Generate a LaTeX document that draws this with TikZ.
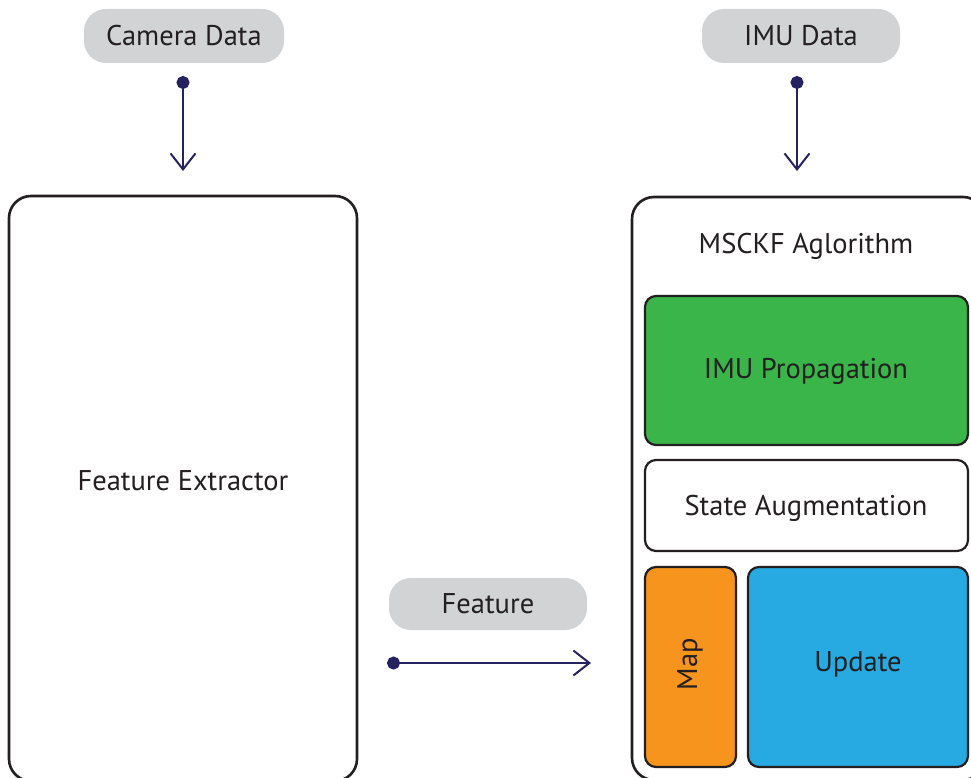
\documentclass[tikz,border=0pt]{standalone}
\usepackage{fontspec}
\setmainfont{PT Sans}
\usetikzlibrary{arrows.meta}
\definecolor{edge}{HTML}{231F20}
\definecolor{flow}{HTML}{262262}
\definecolor{pill}{HTML}{D1D3D4}
\definecolor{propgreen}{HTML}{39B54A}
\definecolor{maporange}{HTML}{F7941D}
\definecolor{updblue}{HTML}{27AAE1}
\tikzset{
  bigbox/.style={draw=edge, line width=2.6pt, rounded corners=22pt, fill=white},
  subbox/.style={draw=edge, line width=2.2pt, rounded corners=11pt},
  tag/.style={fill=pill, rounded corners=22pt, minimum height=54pt, inner sep=0pt},
  lbl/.style={font=\fontsize{28.5}{32}\selectfont, text=edge},
  flowarrow/.style={draw=flow, line width=2pt,
    {Circle[length=13pt]}-{Straight Barb[length=16pt,width=25pt,line width=2pt]}},
}
\begin{document}
\begin{tikzpicture}[x=1pt,y=-1pt]
\useasboundingbox (0,0) rectangle (971,778);
\clip (0,0) rectangle (971,778);

% input tags
\node[tag, minimum width=200pt, lbl] (cam) at (184,36) {Camera Data};
\node[tag, minimum width=198pt, lbl] (imu) at (801,36) {IMU Data};
\node[tag, minimum width=198pt, minimum height=52pt, lbl] (feat) at (488,604) {Feature};

% main blocks
\draw[bigbox] (9,196) rectangle (357,781);
\node[lbl] (fe) at (183,481) {Feature Extractor};
\draw[bigbox] (632,197) rectangle (985,780);
\node[lbl] (alg) at (806,246) {MSCKF Aglorithm};

% stages of the filter
\draw[subbox, fill=propgreen] (645,296) rectangle (968,445);
\node[lbl] (prop) at (806,371) {IMU Propagation};
\draw[subbox, fill=white] (645,460) rectangle (968,551);
\node[lbl] (aug) at (806,508) {State Augmentation};
\draw[subbox, fill=maporange] (645,567) rectangle (736,767);
\node[lbl, rotate=90] (map) at (690,664) {Map};
\draw[subbox, fill=updblue] (748,567) rectangle (968,767);
\node[lbl] (upd) at (858,664) {Update};

% data flow
\coordinate (camS) at (183,76);
\coordinate (camE) at (183,171);
\coordinate (imuS) at (797,76);
\coordinate (imuE) at (797,171);
\coordinate (featS) at (387,663);
\coordinate (featE) at (591,663);
\draw[flowarrow] (camS) -- (camE);
\draw[flowarrow] (imuS) -- (imuE);
\draw[flowarrow] (featS) -- (featE);
\end{tikzpicture}
\end{document}
